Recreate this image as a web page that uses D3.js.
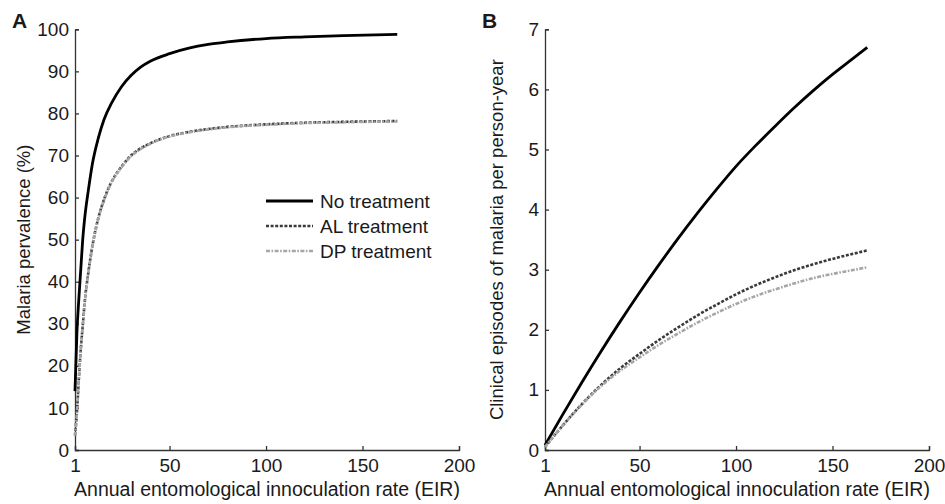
<!DOCTYPE html>
<html>
<head>
<meta charset="utf-8">
<script src="https://d3js.org/d3.v7.min.js"></script>
<style>
  body { margin: 0; background: #fff; }
  text { font-family: "Liberation Sans", Arial, sans-serif; fill: #1a1a1a; }
</style>
</head>
<body>
<script>
// EIR values for each panel
const eirA = [1, 2, 3, 4, 5, 6, 8, 10, 13, 16, 20, 25, 30, 35, 40, 50, 60, 70, 80, 100, 120, 140, 168];
const prevNone = [14, 28, 36, 43, 50, 55, 62, 68, 74, 78.5, 82.5, 86.3, 89, 91, 92.4, 94.2, 95.5, 96.4, 97, 97.8, 98.2, 98.5, 98.8];
const prevAL = [3.5, 9, 17, 24, 29.5, 35, 42.5, 48.5, 55, 59.5, 63.8, 67.3, 70, 71.7, 72.9, 74.6, 75.6, 76.3, 76.8, 77.4, 77.8, 78.0, 78.2];
const prevDP = [3.4, 8.8, 16.8, 23.8, 29.3, 34.8, 42.3, 48.3, 54.8, 59.3, 63.6, 67.1, 69.8, 71.5, 72.8, 74.5, 75.5, 76.2, 76.7, 77.3, 77.7, 77.9, 78.1];

const eirB = [1, 10, 20, 30, 40, 50, 60, 70, 80, 90, 100, 110, 120, 130, 140, 150, 160, 168];
const epiNone = [0.08, 0.58, 1.12, 1.64, 2.14, 2.62, 3.08, 3.52, 3.94, 4.34, 4.72, 5.06, 5.38, 5.69, 5.98, 6.25, 6.50, 6.70];
const epiAL = [0.05, 0.40, 0.76, 1.08, 1.36, 1.60, 1.83, 2.04, 2.24, 2.42, 2.59, 2.74, 2.87, 2.99, 3.09, 3.18, 3.26, 3.32];
const epiDP = [0.05, 0.40, 0.75, 1.06, 1.32, 1.54, 1.75, 1.94, 2.12, 2.28, 2.43, 2.56, 2.67, 2.77, 2.86, 2.93, 2.99, 3.04];

const xTicks = [1, 50, 100, 150, 200];
const yTicksA = [0, 10, 20, 30, 40, 50, 60, 70, 80, 90, 100];
const yTicksB = [0, 1, 2, 3, 4, 5, 6, 7];
const seriesNames = ["No treatment", "AL treatment", "DP treatment"];

const styles = [
    { color: "#000", width: 2.8, dash: null },
    { color: "#3a3a3a", width: 2.6, dash: "3,1.6" },
    { color: "#a6a6a6", width: 2.6, dash: "4,1.5,1.6,1.5" }
];

const dims = {
    width: 945,
    height: 504,
    top: 29.3,
    bottom: 450,
    plotWidth: 384
};
const TICK_FONT = 19;
const XTITLE_FONT = 19.5;
const YTITLE_FONT = 18.5;

let svg = d3.select("body")
    .append("svg")
    .attr("width", dims.width)
    .attr("height", dims.height);

function drawPanel(left, label, yMax, yTicks, yTitle, yTitleX, eir, series, legend) {
    const x = d3.scaleLinear().domain([1, 200]).range([left, left + dims.plotWidth]);
    const y = d3.scaleLinear().domain([0, yMax]).range([dims.bottom, dims.top]);
    const g = svg.append("g");

    g.append("g")
        .attr("transform", "translate(0," + dims.bottom + ")")
        .call(d3.axisBottom(x).tickValues(xTicks).tickFormat(d3.format("d"))
            .tickSizeInner(-4).tickSizeOuter(-4).tickPadding(9))
        .call(ax => {
            ax.selectAll("path, line").attr("stroke", "#333").attr("stroke-width", 1.3);
            ax.selectAll("text").attr("font-size", TICK_FONT).attr("dy", "0.71em").attr("fill", "#1a1a1a");
        });
    g.append("g")
        .attr("transform", "translate(" + left + ",0)")
        .call(d3.axisLeft(y).tickValues(yTicks).tickFormat(d3.format("d"))
            .tickSizeInner(-4).tickSizeOuter(-4).tickPadding(6))
        .call(ax => {
            ax.selectAll("path, line").attr("stroke", "#333").attr("stroke-width", 1.3);
            ax.selectAll("text").attr("font-size", TICK_FONT).attr("fill", "#1a1a1a");
        });

    g.append("text")
        .attr("x", left + dims.plotWidth / 2)
        .attr("y", 496)
        .attr("text-anchor", "middle")
        .attr("font-size", XTITLE_FONT)
        .text("Annual entomological innoculation rate (EIR)");

    g.append("text")
        .attr("transform", "translate(" + yTitleX + "," + (dims.top + dims.bottom) / 2 + ") rotate(-90)")
        .attr("text-anchor", "middle")
        .attr("font-size", YTITLE_FONT)
        .text(yTitle);

    g.append("text")
        .attr("x", left - 63)
        .attr("y", 28)
        .attr("font-size", 21)
        .attr("font-weight", "bold")
        .attr("fill", "#000")
        .text(label);

    const line = d3.line()
        .x((d, i) => x(eir[i]))
        .y(d => y(d))
        .curve(d3.curveMonotoneX);

    series.forEach((vals, i) => {
        g.append("path")
            .datum(vals)
            .attr("d", line)
            .attr("fill", "none")
            .attr("stroke", styles[i].color)
            .attr("stroke-width", styles[i].width)
            .attr("stroke-dasharray", styles[i].dash);
    });

    if (legend) {
        const lg = g.append("g")
            .selectAll("g")
            .data(seriesNames)
            .enter()
            .append("g")
            .attr("transform", (d, i) => "translate(266," + (201 + i * 25) + ")");
        lg.append("line")
            .attr("x1", 0)
            .attr("x2", 47)
            .attr("stroke", (d, i) => styles[i].color)
            .attr("stroke-width", (d, i) => styles[i].width)
            .attr("stroke-dasharray", (d, i) => styles[i].dash);
        lg.append("text")
            .attr("x", 54)
            .attr("y", 7)
            .attr("font-size", TICK_FONT)
            .text(d => d);
    }
}

drawPanel(75, "A", 100, yTicksA, "Malaria pervalence (%)", 30, eirA, [prevNone, prevAL, prevDP], true);
drawPanel(545, "B", 7, yTicksB, "Clinical episodes of malaria per person-year", 503, eirB, [epiNone, epiAL, epiDP], false);
</script>
</body>
</html>
